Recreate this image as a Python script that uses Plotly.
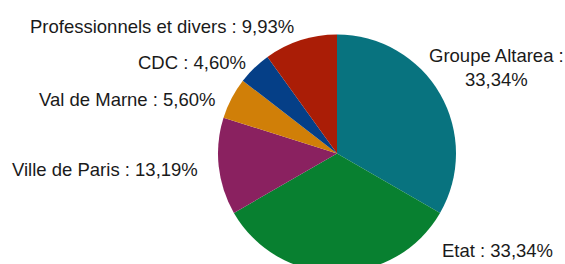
import plotly.graph_objects as go

labels = ["Groupe Altarea", "Etat", "Ville de Paris", "Val de Marne", "CDC", "Professionnels et divers"]
values = [33.34, 33.34, 13.19, 5.60, 4.60, 9.93]
colors = ["#08737F", "#088030", "#8A2160", "#D07F08", "#053F87", "#AA1D06"]
label_texts = [
    "Groupe Altarea :<br>33,34%",
    "Etat : 33,34%",
    "Ville de Paris : 13,19%",
    "Val de Marne : 5,60%",
    "CDC : 4,60%",
    "Professionnels et divers : 9,93%",
]

W, H = 565, 280
cx, cy, r = 337, 153.5, 119

def px(x):
    return x / W

def py(y):
    return (H - y) / H

fig = go.Figure(go.Pie(
    labels=labels,
    values=values,
    sort=False,
    direction="clockwise",
    rotation=0,
    marker=dict(colors=colors, line=dict(width=0)),
    textinfo="none",
    hoverinfo="label+percent",
    domain=dict(x=[px(cx - r), px(cx + r)], y=[py(cy + r), py(cy - r)]),
    showlegend=False,
))

# label anchor positions (pixels) : x, y, xanchor
pos = [
    (496, 67.5, "center"),
    (440, 250, "left"),
    (200, 169, "right"),
    (218, 100, "right"),
    (248, 63, "right"),
    (296, 26, "right"),
]
font = dict(family="Liberation Sans, Arial, sans-serif", size=18.5, color="#1a1a1a")
for t, (x, y, xa) in zip(label_texts, pos):
    fig.add_annotation(x=px(x), y=py(y), xref="paper", yref="paper", text=t,
                       showarrow=False, xanchor=xa, yanchor="middle", align="center",
                       font=font)

fig.update_layout(
    width=W, height=H,
    margin=dict(l=0, r=0, t=0, b=0),
    paper_bgcolor="white",
    plot_bgcolor="white",
)

fig.write_html("out.html", config={"displayModeBar": False},
               post_script="document.body.style.margin='0';document.body.style.overflow='hidden';document.documentElement.style.overflow='hidden';")
